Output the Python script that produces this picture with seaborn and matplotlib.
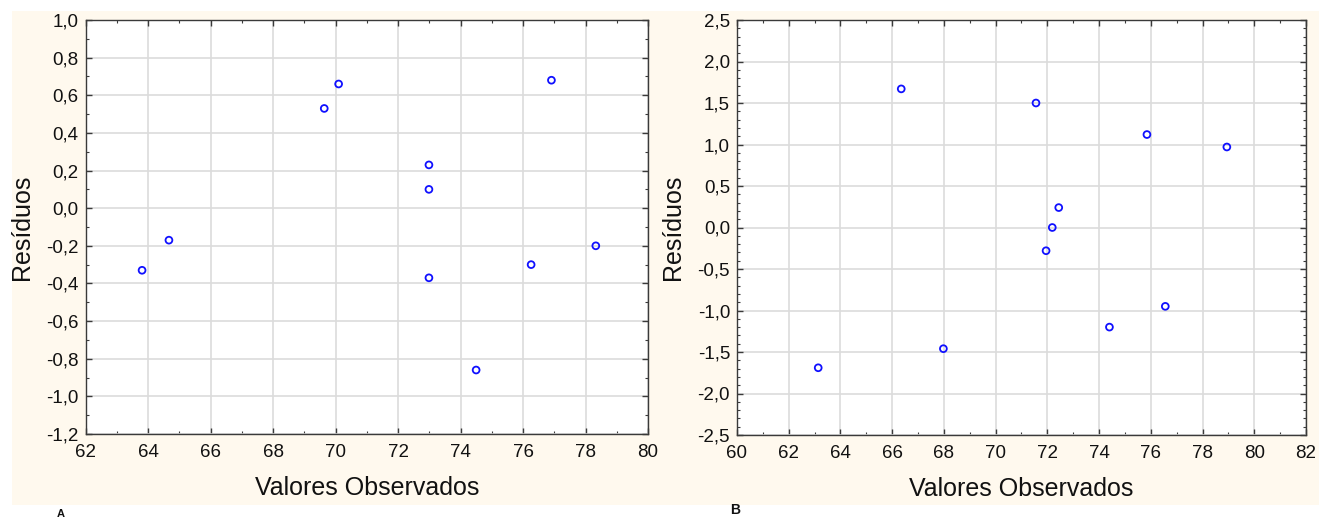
import matplotlib
matplotlib.use("Agg")
import matplotlib.pyplot as plt
from matplotlib.ticker import MultipleLocator, FuncFormatter
import seaborn as sns
import pandas as pd

# Panel A: observed values and residuals
obs_a = [63.81, 64.67, 69.64, 70.10, 72.99, 72.99, 72.99, 74.50, 76.26, 76.91, 78.33]
res_a = [-0.33, -0.17, 0.53, 0.66, 0.23, 0.10, -0.37, -0.86, -0.30, 0.68, -0.20]

# Panel B: observed values and residuals
obs_b = [63.14, 66.35, 67.98, 71.56, 71.95, 72.19, 72.44, 74.40, 75.85, 76.56, 78.94]
res_b = [-1.69, 1.67, -1.46, 1.50, -0.28, 0.00, 0.24, -1.20, 1.12, -0.95, 0.97]

xlabel = "Valores Observados"
ylabel = "Resíduos"
panel_tags = ["A", "B"]

sns.set_theme(style="white")
plt.rcParams["font.family"] = ["Liberation Sans", "DejaVu Sans"]

fig = plt.figure(figsize=(13.19, 5.19), dpi=100)
fig.patch.set_facecolor("white")

# cream backdrop behind both panels
bg = fig.add_axes([12 / 1319, 1 - 505 / 519, 1307 / 1319, 494 / 519], zorder=-10)
bg.set_facecolor("#fff9ee")
bg.set_xticks([])
bg.set_yticks([])
for s in bg.spines.values():
    s.set_visible(False)

ax_a = fig.add_axes([85.5 / 1319, 1 - 434 / 519, 562.5 / 1319, 414 / 519], zorder=1)
ax_b = fig.add_axes([737 / 1319, 1 - 435 / 519, 569 / 1319, 415 / 519], zorder=1)

comma1 = FuncFormatter(lambda v, p: f"{v:.1f}".replace(".", ",").replace("-0,0", "0,0"))
intfmt = FuncFormatter(lambda v, p: f"{v:.0f}")

panels = [
    (ax_a, obs_a, res_a, (62, 80), (-1.2, 1.0), 0.2),
    (ax_b, obs_b, res_b, (60, 82), (-2.5, 2.5), 0.5),
]

for ax, xs, ys, xlim, ylim, ystep in panels:
    df = pd.DataFrame({"obs": xs, "res": ys})
    ax.set_facecolor("white")
    sns.scatterplot(data=df, x="obs", y="res", ax=ax, marker="o", s=24,
                    facecolor="none", edgecolor="#1010ff", linewidth=1.3, zorder=3)
    ax.set_xlim(*xlim)
    ax.set_ylim(*ylim)
    ax.xaxis.set_major_locator(MultipleLocator(2))
    ax.xaxis.set_minor_locator(MultipleLocator(1))
    ax.yaxis.set_major_locator(MultipleLocator(ystep))
    ax.yaxis.set_minor_locator(MultipleLocator(0.1))
    ax.xaxis.set_major_formatter(intfmt)
    ax.yaxis.set_major_formatter(comma1)
    ax.grid(True, which="major", color="#dcdcdc", linewidth=1.2, zorder=0)
    ax.set_axisbelow(True)
    for s in ax.spines.values():
        s.set_color("#3a3a3a")
        s.set_linewidth(1.0)
    ax.tick_params(which="both", direction="in", top=True, right=True,
                   bottom=True, left=True, color="#3a3a3a")
    ax.tick_params(which="major", length=4, width=1, labelsize=13.5,
                   labelcolor="#111111")
    ax.tick_params(axis="x", which="major", pad=7)
    ax.tick_params(axis="y", which="major", pad=5)
    ax.tick_params(which="minor", length=2.5, width=0.8)
    ax.set_xlabel(xlabel, fontsize=18, color="#111111", labelpad=11)
    ax.set_ylabel(ylabel, fontsize=18, color="#111111", labelpad=9)

fig.text(61 / 1319, 1 - 514 / 519, panel_tags[0], fontsize=8, fontweight="bold",
         ha="center", va="center", color="#111111")
fig.text(735 / 1319, 1 - 510 / 519, panel_tags[1], fontsize=10, fontweight="bold",
         ha="center", va="center", color="#111111")

fig.savefig("out.png", dpi=100, facecolor=fig.get_facecolor())
